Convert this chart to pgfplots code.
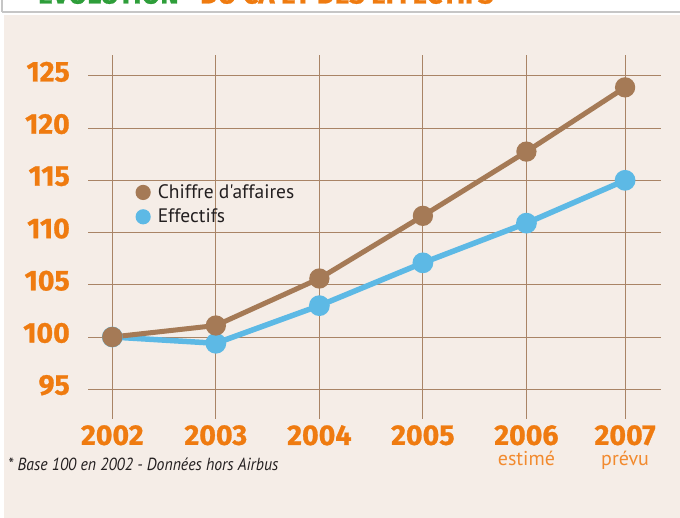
\documentclass[border=0pt]{standalone}
\usepackage{graphicx}
\usepackage{pgfplots}
\pgfplotsset{compat=1.18}
\usepackage{fontspec}
\setmainfont{Fira Sans}
\newfontfamily\heavy{Fira Sans}[BoldFeatures={FakeBold=0.9}]
\newfontfamily\ptsans{PT Sans}
\definecolor{bg}{HTML}{F5EDE7}
\definecolor{org}{HTML}{EF7B10}
\definecolor{orgl}{HTML}{F28A2E}
\definecolor{brn}{HTML}{A57A56}
\definecolor{blu}{HTML}{5DB9E5}
\definecolor{grd}{HTML}{A98466}
\definecolor{grn}{HTML}{2E9E3A}
\definecolor{txt}{HTML}{231F20}
\newcommand\subl{\ptsans\mdseries\fontsize{20}{20}\selectfont\color{orgl}}
\begin{document}
\begin{tikzpicture}[x=1pt,y=1pt]
\path[use as bounding box] (0,0) rectangle (680,518);
\clip (0,0) rectangle (680,518);
\fill[white] (0,0) rectangle (680,518);
\fill[bg] (4,0) rectangle (680,503);
\draw[gray!45, line width=2.5pt] (2,506) -- (680,506);
\draw[gray!45, line width=2pt] (2,518) -- (2,506);
\node[anchor=base west, inner sep=0pt, text=grn, font=\heavy\fontsize{27.5}{27.5}\selectfont\bfseries] at (38,514.5) {ÉVOLUTION};
\node[anchor=base west, inner sep=0pt, text=org, font=\heavy\fontsize{27.5}{27.5}\selectfont\bfseries] at (200,514.5) {DU CA ET DES EFFECTIFS};
\node[anchor=base west, inner sep=0pt, text=txt, font=\ptsans\itshape\fontsize{17.5}{17.5}\selectfont] at (8,47.3) {\scalebox{0.9}[1]{* Base 100 en 2002 - Données hors Airbus}};
\begin{axis}[
  at={(88pt,99pt)}, anchor=south west,
  scale only axis, width=573pt, height=364pt,
  xmin=-0.235, xmax=5.30, ymin=92.15, ymax=127,
  axis line style={draw=none}, major tick length=0pt,
  xtick={0,1,2,3,4,4.953},
  xticklabels={2002,2003,2004,2005,{2006\\{\subl estimé}},{2007\\{\subl prévu}}},
  ytick={95,100,105,110,115,120,125},
  yticklabels={95,100,105,110,115,120,125},
  grid=major, major grid style={grd, line width=0.9pt},
  yticklabel style={font=\heavy\fontsize{28.5}{28.5}\selectfont\bfseries, text=org, anchor=east, inner sep=0pt, xshift=-18pt, yshift=4pt},
  xticklabel style={font=\heavy\fontsize{28.5}{20.5}\selectfont\bfseries, text=org, anchor=north, inner sep=0pt, yshift=-6pt, align=center},
  legend style={at={(0.083,0.589)}, anchor=west, draw=none, fill=none, inner sep=0pt, outer sep=0pt,
    font=\ptsans\fontsize{19.5}{19.5}\selectfont, text=txt, row sep=9pt, column sep=7pt,
    nodes={inner sep=0pt}},
  legend cell align=left,
  legend image code/.code={\fill[#1, draw=none] (7.6pt,0pt) circle (7.6pt);},
  reverse legend,
]
\addplot[blu, line width=5.5pt, mark=*, mark size=7.6pt, mark options={draw=none, fill=blu}]
  coordinates {(0,100) (1,99.4) (2,103.0) (3,107.1) (4,110.9) (4.953,115.0)};
\addlegendentry{Effectifs}
\addplot[brn, line width=5pt, mark=*, mark size=7.6pt, mark options={draw=none, fill=brn}]
  coordinates {(0,100) (1,101.1) (2,105.6) (3,111.6) (4,117.75) (4.953,123.9)};
\addlegendentry{Chiffre d'affaires}
\end{axis}
\end{tikzpicture}
\end{document}
